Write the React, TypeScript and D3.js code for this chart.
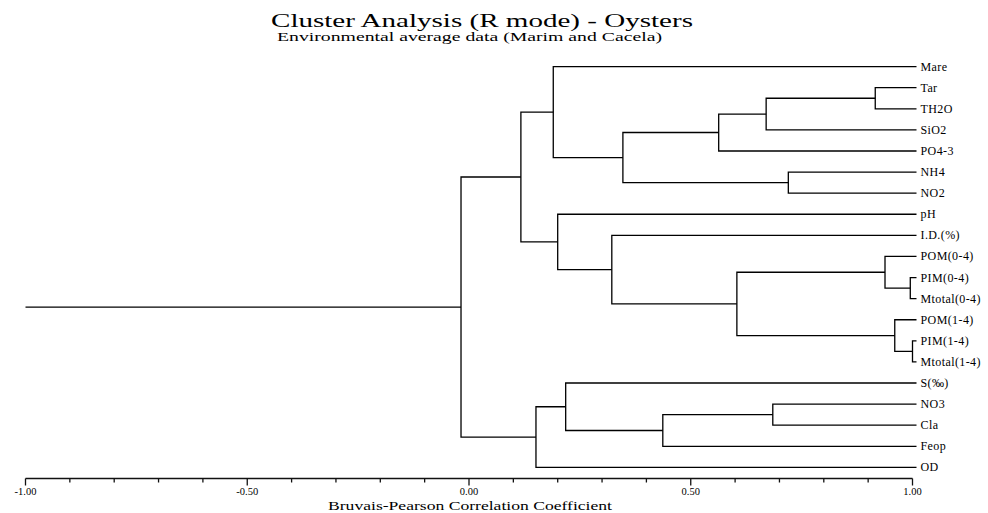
import React from "react";
import * as d3 from "d3";

const leaves = [
  "Mare", "Tar", "TH2O", "SiO2", "PO4-3", "NH4", "NO2", "pH", "I.D.(%)",
  "POM(0-4)", "PIM(0-4)", "Mtotal(0-4)", "POM(1-4)", "PIM(1-4)", "Mtotal(1-4)",
  "S(‰)", "NO3", "Cla", "Feop", "OD",
];

// hclust-style merges: negative = leaf (1-based), positive = earlier merge (1-based)
const mergeLeft = [-14, -11, -13, -10, -2, -6, -17, -4, 4, 8, -19, 10, -9, -16, -8, -1, -20, 16, 18];
const mergeRight = [-15, -12, 1, 2, -3, -7, -18, 5, 3, -5, 7, 6, 9, 11, 13, 12, 14, 15, 17];
const mergeHeight = [1.0, 0.995, 0.96, 0.938, 0.916, 0.72, 0.685, 0.67, 0.604, 0.563, 0.437, 0.347, 0.322, 0.218, 0.2, 0.19, 0.151, 0.117, -0.018];

const tickValues = [-1, -0.5, 0, 0.5, 1];
const tickLabels = ["-1.00", "-0.50", "0.00", "0.50", "1.00"];
const minorTicks = d3.range(-10, 11).map((d) => d / 10);

const title = "Cluster Analysis (R mode) - Oysters";
const subtitle = "Environmental average data (Marim and Cacela)";
const xTitle = "Bruvais-Pearson Correlation Coefficient";

const W = 988;
const H = 513;
const FONT = "'Liberation Serif', 'DejaVu Serif', serif";

export default function App() {
  const x = d3.scaleLinear().domain([-1, 1]).range([25.5, 912.5]);
  const y = d3.scalePoint<string>().domain(leaves).range([66.6, 467.4]);
  const leafEnd = x(1) + 4;
  const axisY = 478.5;

  const nodeY: number[] = [];
  const nodeX: number[] = [];
  const pos = (ref: number) =>
    ref < 0
      ? { x: leafEnd, y: y(leaves[-ref - 1]) as number }
      : { x: nodeX[ref - 1], y: nodeY[ref - 1] };

  const paths: string[] = [];
  mergeHeight.forEach((h, i) => {
    const a = pos(mergeLeft[i]);
    const b = pos(mergeRight[i]);
    const hx = x(h);
    const p = d3.path();
    p.moveTo(a.x, a.y);
    p.lineTo(hx, a.y);
    p.lineTo(hx, b.y);
    p.lineTo(b.x, b.y);
    paths.push(p.toString());
    nodeX.push(hx);
    nodeY.push((a.y + b.y) / 2);
  });
  const root = mergeHeight.length - 1;
  const stem = d3.path();
  stem.moveTo(x(-1), nodeY[root]);
  stem.lineTo(nodeX[root], nodeY[root]);

  return (
    <svg width={W} height={H} style={{ position: "absolute", left: 0, top: 0, background: "#fff" }}
      fontFamily={FONT}>
      <rect width={W} height={H} fill="#fff" />
      <text x={271} y={27} fontSize={18} textLength={422} lengthAdjust="spacingAndGlyphs" fill="#000">
        {title}
      </text>
      <text x={277} y={41} fontSize={12} textLength={385} lengthAdjust="spacingAndGlyphs" fill="#000">
        {subtitle}
      </text>

      <g fill="none" stroke="#000" strokeWidth={1.3}>
        {paths.map((d, i) => (
          <path key={i} d={d} />
        ))}
        <path d={stem.toString()} />
      </g>

      <g fontSize={12} fill="#000" letterSpacing={0.4}>
        {leaves.map((l) => (
          <text key={l} x={leafEnd + 4} y={(y(l) as number) + 4}>
            {l}
          </text>
        ))}
      </g>

      <g stroke="#111" strokeWidth={1.3}>
        <line x1={x(-1)} x2={x(1)} y1={axisY} y2={axisY} />
        {minorTicks.map((t) => (
          <line key={t} x1={x(t)} x2={x(t)} y1={axisY} y2={axisY + (tickValues.includes(t) ? 7 : 4)} />
        ))}
      </g>
      <g fontSize={10.5} fill="#000" textAnchor="middle">
        {tickValues.map((t, i) => (
          <text key={t} x={x(t)} y={495}>
            {tickLabels[i]}
          </text>
        ))}
      </g>
      <text x={328} y={510} fontSize={12.5} textLength={284} lengthAdjust="spacingAndGlyphs" fill="#000">
        {xTitle}
      </text>
    </svg>
  );
}
